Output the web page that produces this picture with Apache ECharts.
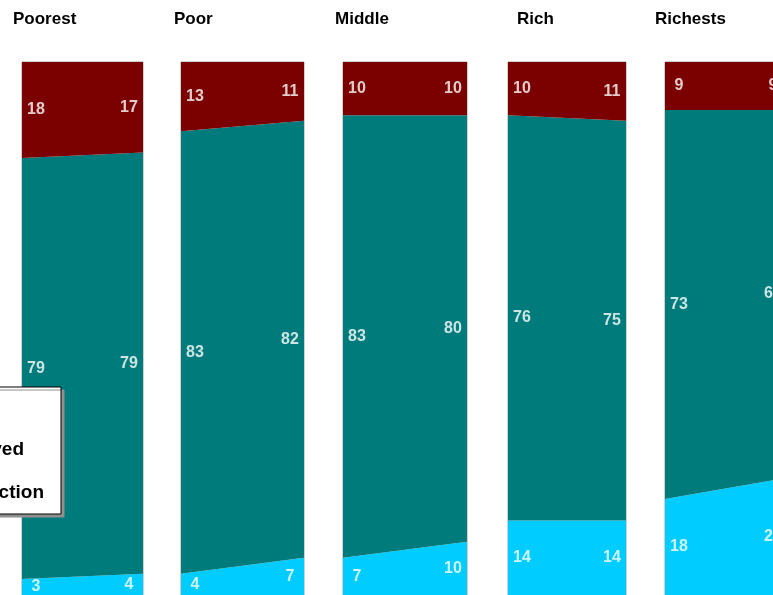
<!DOCTYPE html>
<html>
<head>
<meta charset="utf-8">
<script src="https://cdn.jsdelivr.net/npm/echarts@6/dist/echarts.min.js"></script>
<style>
  html, body { margin: 0; padding: 0; background: #fff; }
  #main { width: 773px; height: 595px; }
</style>
</head>
<body>
<div id="main"></div>
<script>
// wealth groups, two survey rounds each
const groups = ['Poorest', 'Poor', 'Middle', 'Rich', 'Richests'];
const rounds = ['Round 1', 'Round 2'];
const seriesNames = ['Rise', 'Delayed', 'Reduction'];
const blueVals = [[3, 4], [4, 7], [7, 10], [14, 14], [18, 22]];
const tealVals = [[79, 79], [83, 82], [83, 80], [76, 75], [73, 69]];
const redVals = [[18, 17], [13, 11], [10, 10], [10, 11], [9, 9]];

const colors = ['#00CCFF', '#007B7B', '#7B0000'];
const panelLeft = [22, 181, 343, 508, 665];
const panelWidth = [121, 123, 124, 118, 122];
const titleLeft = [13, 174, 335, 517, 655];

let grids = [], xAxes = [], yAxes = [], titles = [], series = [];

groups.forEach((g, i) => {
  grids.push({
    left: panelLeft[i], top: 62, width: panelWidth[i], height: 533,
    outerBoundsMode: 'none',
    show: true, borderColor: '#a0a0a0', borderWidth: 1, backgroundColor: 'transparent'
  });
  xAxes.push({
    gridIndex: i, type: 'category', data: rounds, boundaryGap: false, show: false
  });
  yAxes.push({
    gridIndex: i, type: 'value', min: 0, max: 100, show: false
  });
  titles.push({
    text: g, left: titleLeft[i], top: 11, padding: 0,
    textStyle: { fontFamily: 'Liberation Sans, Arial', fontSize: 17, fontWeight: 'bold', color: '#000' }
  });

  const vals = [blueVals[i], tealVals[i], redVals[i]];
  vals.forEach((v, k) => {
    series.push({
      name: seriesNames[k],
      type: 'line',
      xAxisIndex: i, yAxisIndex: i,
      stack: 'panel' + i,
      data: v,
      showSymbol: false,
      symbol: 'none',
      lineStyle: { width: 0 },
      itemStyle: { color: colors[k] },
      areaStyle: { color: colors[k], opacity: 1 },
      z: 2
    });
  });

  // value labels sit in the middle of each band, a little inside the edge
  let labelData = [];
  [0, 1].forEach(j => {
    let base = 0;
    vals.forEach(v => {
      labelData.push({
        value: [j, base + v[j] / 2, v[j]],
        label: { offset: [j === 0 ? 14 : -14, 0] }
      });
      base += v[j];
    });
  });
  series.push({
    type: 'scatter',
    xAxisIndex: i, yAxisIndex: i,
    symbolSize: 0,
    silent: true,
    clip: false,
    z: 5,
    data: labelData,
    label: {
      show: true,
      position: 'inside',
      align: 'center',
      verticalAlign: 'middle',
      formatter: p => p.value[2],
      color: '#fff',
      fontFamily: 'Liberation Sans, Arial',
      fontSize: 16,
      fontWeight: 'bold'
    }
  });
});

const option = {
  animation: false,
  title: titles,
  grid: grids,
  xAxis: xAxes,
  yAxis: yAxes,
  legend: {
    data: seriesNames,
    orient: 'vertical',
    right: 712,
    top: 387,
    padding: [10, 17, 12, 10],
    itemGap: 24,
    itemWidth: 14,
    itemHeight: 14,
    icon: 'rect',
    selectedMode: false,
    backgroundColor: '#fff',
    borderColor: '#000',
    borderWidth: 1,
    shadowColor: '#909090',
    shadowOffsetX: 3,
    shadowOffsetY: 3,
    shadowBlur: 0,
    textStyle: { fontFamily: 'Liberation Sans, Arial', fontSize: 19, fontWeight: 'bold', color: '#000' }
  },
  series: series
};

const chart = echarts.init(document.getElementById('main'));
chart.setOption(option);
</script>
</body>
</html>
